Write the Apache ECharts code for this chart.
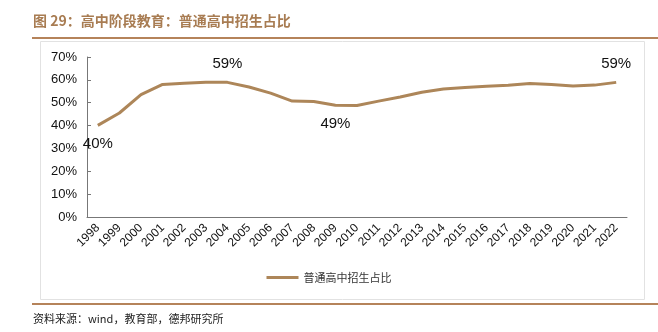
<!DOCTYPE html>
<html>
<head>
<meta charset="utf-8">
<script src="https://cdn.jsdelivr.net/npm/echarts@6/dist/echarts.min.js"></script>
<style>
html,body{margin:0;padding:0;background:#fff;}
#chart{width:658px;height:332px;}
</style>
</head>
<body>
<div id="chart"></div>
<script>
// 普通高中招生占比（高中阶段教育）
const years = ['1998','1999','2000','2001','2002','2003','2004','2005','2006','2007','2008','2009','2010',
  '2011','2012','2013','2014','2015','2016','2017','2018','2019','2020','2021','2022'];
const shareValues = [40.1, 45.5, 53.5, 58.0, 58.5, 58.9, 58.9, 56.9, 54.2, 50.7, 50.5, 48.9, 48.8,
  50.7, 52.5, 54.6, 56.0, 56.7, 57.2, 57.6, 58.4, 58.0, 57.3, 57.7, 58.9];
const yTicks = [0, 10, 20, 30, 40, 50, 60, 70];
// points carrying a value label, and where the label sits
const labelled = { '1998': 'bottom', '2004': 'top', '2009': 'bottom', '2022': 'top' };

const brown = '#ad8659';
const titleBrown = '#a87c52';

const seriesData = shareValues.map((v, i) => {
  const pos = labelled[years[i]];
  if (!pos) return v;
  return {
    value: v,
    label: { show: true, position: pos, distance: 11, formatter: Math.round(v) + '%' }
  };
});

const chart = echarts.init(document.getElementById('chart'), null, { renderer: 'canvas' });
chart.setOption({
  animation: false,
  backgroundColor: '#fff',
  textStyle: { fontFamily: 'Liberation Sans, Arial, sans-serif' },
  graphic: [
    { type: 'rect', shape: { x: 40.5, y: 41.5, width: 604, height: 258 },
      style: { fill: 'none', stroke: '#e2e2e2', lineWidth: 1 }, silent: true },
    { type: 'text', left: 33, top: 14,
      style: { text: '图 29：高中阶段教育：普通高中招生占比', fill: titleBrown,
        font: 'bold 14px "Noto Sans CJK SC", sans-serif' } },
    { type: 'line', shape: { x1: 32, y1: 38, x2: 658, y2: 38 },
      style: { stroke: '#b5835a', lineWidth: 2 } },
    { type: 'line', shape: { x1: 32, y1: 304, x2: 658, y2: 304 },
      style: { stroke: '#b5835a', lineWidth: 2 } },
    { type: 'text', left: 33, top: 313,
      style: { text: '资料来源：wind，教育部，德邦研究所', fill: '#222',
        font: '11px "Noto Sans CJK SC", sans-serif' } }
  ],
  legend: {
    show: true,
    bottom: 44,
    left: 'center',
    itemWidth: 32,
    itemHeight: 3,
    icon: 'rect',
    textStyle: { fontSize: 11, color: '#333', fontFamily: '"Noto Sans CJK SC", sans-serif' },
    data: ['普通高中招生占比']
  },
  grid: { left: 87, right: 31, top: 57, bottom: 115, containLabel: false },
  xAxis: {
    type: 'category',
    data: years,
    boundaryGap: true,
    axisLine: { lineStyle: { color: '#777', width: 1 } },
    axisTick: { inside: true, length: 4, lineStyle: { color: '#777' } },
    axisLabel: { rotate: 45, fontSize: 12, color: '#111', margin: 9, interval: 0 }
  },
  yAxis: {
    type: 'value',
    min: yTicks[0],
    max: yTicks[yTicks.length - 1],
    interval: 10,
    splitLine: { show: false },
    axisLine: { show: true, lineStyle: { color: '#777', width: 1 } },
    axisTick: { show: true, inside: true, length: 4, lineStyle: { color: '#777' } },
    axisLabel: { fontSize: 13, color: '#111', margin: 10, formatter: v => v + '%' }
  },
  series: [{
    name: '普通高中招生占比',
    type: 'line',
    data: seriesData,
    symbol: 'circle',
    symbolSize: 0,
    showSymbol: true,
    smooth: false,
    lineStyle: { color: brown, width: 3 },
    itemStyle: { color: brown },
    label: { show: false, fontSize: 15, color: '#111' }
  }]
});
</script>
</body>
</html>
